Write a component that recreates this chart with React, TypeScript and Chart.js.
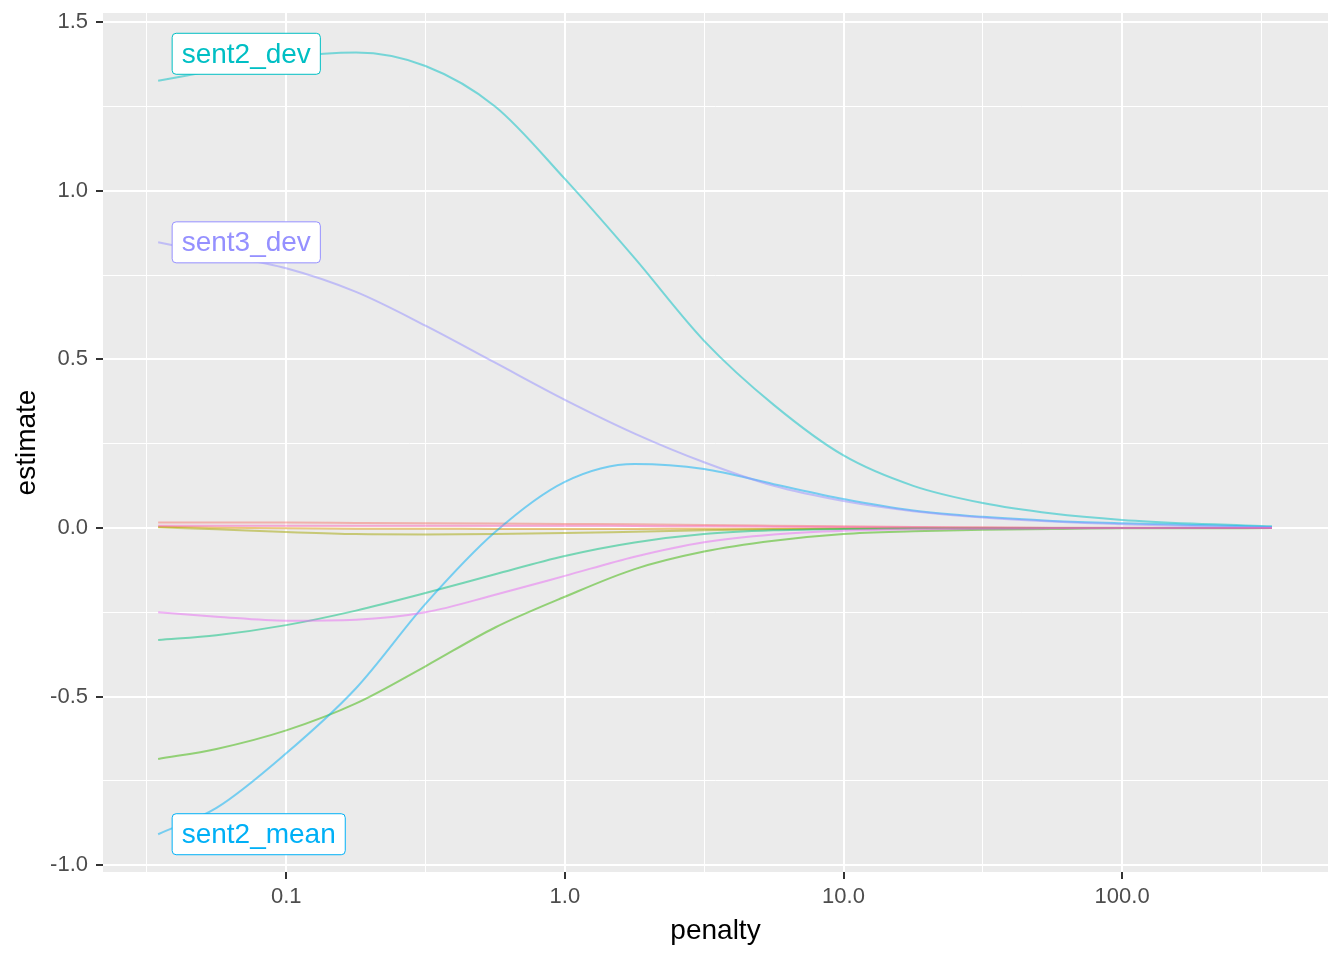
import React, { useEffect, useRef } from 'react';
import { Chart, registerables } from 'chart.js';

Chart.register(...registerables);

const PENALTY = [0.0347, 0.0562, 0.1, 0.178, 0.316, 0.562, 1.0, 1.78, 3.16, 5.62, 10, 17.8, 31.6, 56.2, 100, 178, 345];

const TERM1 = [0.016, 0.016, 0.016, 0.015, 0.014, 0.013, 0.012, 0.011, 0.009, 0.007, 0.005, 0.003, 0.002, 0.001, 0.001, 0, 0];
const TERM2 = [0.004, 0.001, -0.001, -0.002, -0.002, -0.003, -0.003, -0.003, -0.002, -0.002, -0.001, -0.001, 0, 0, 0, 0, 0];
const TERM3 = [0.002, -0.004, -0.012, -0.018, -0.019, -0.018, -0.015, -0.011, -0.007, -0.004, -0.002, -0.001, -0.001, 0, 0, 0, 0];
const TERM4 = [-0.685, -0.655, -0.6, -0.52, -0.41, -0.295, -0.204, -0.122, -0.07, -0.038, -0.018, -0.01, -0.005, -0.003, -0.001, -0.001, 0];
const TERM5 = [-0.332, -0.318, -0.288, -0.245, -0.193, -0.137, -0.083, -0.043, -0.018, -0.007, -0.003, -0.001, -0.001, 0, 0, 0, 0];
const SENT2_DEV = [1.326, 1.358, 1.395, 1.41, 1.37, 1.25, 1.035, 0.8, 0.555, 0.365, 0.215, 0.125, 0.074, 0.043, 0.024, 0.013, 0.005];
const SENT2_MEAN = [-0.908, -0.83, -0.668, -0.475, -0.225, -0.012, 0.137, 0.19, 0.175, 0.13, 0.086, 0.052, 0.033, 0.021, 0.014, 0.009, 0.003];
const SENT3_DEV = [0.847, 0.812, 0.77, 0.7, 0.6, 0.49, 0.38, 0.28, 0.195, 0.125, 0.08, 0.05, 0.031, 0.019, 0.011, 0.006, 0.002];
const TERM9 = [-0.25, -0.263, -0.275, -0.272, -0.25, -0.198, -0.142, -0.085, -0.042, -0.019, -0.008, -0.004, -0.002, -0.001, 0, 0, 0];
const TERM10 = [0.007, 0.007, 0.007, 0.007, 0.007, 0.007, 0.007, 0.006, 0.005, 0.004, 0.003, 0.002, 0.001, 0, 0, 0, 0];

const SERIES = [TERM1, TERM2, TERM3, TERM4, TERM5, SENT2_DEV, SENT2_MEAN, SENT3_DEV, TERM9, TERM10];
const NAMES = ['term1', 'term2', 'term3', 'term4', 'term5', 'sent2_dev', 'sent2_mean', 'sent3_dev', 'term9', 'term10'];
const COLORS = ['#F8766D', '#D89000', '#A3A500', '#39B600', '#00BF7D', '#00BFC4', '#00B0F6', '#9590FF', '#E76BF3', '#FF62BC'];
const LABELLED = ['sent2_dev', 'sent3_dev', 'sent2_mean'];

const X_TICKS = [10 ** -1.5, 0.1, 10 ** -0.5, 1, 10 ** 0.5, 10, 10 ** 1.5, 100, 10 ** 2.5];
const Y_TICKS = [-1, -0.75, -0.5, -0.25, 0, 0.25, 0.5, 0.75, 1, 1.25, 1.5];

const FONT = '"Liberation Sans", Arial, sans-serif';

const isMajorX = (v: number) => Math.abs(Math.log10(v) - Math.round(Math.log10(v))) < 1e-6;
const isMajorY = (v: number) => Math.abs(v * 2 - Math.round(v * 2)) < 1e-6;

const panelBg = {
  id: 'panelBg',
  beforeDraw(chart: any) {
    const { ctx, chartArea: a } = chart;
    ctx.save();
    ctx.fillStyle = '#EBEBEB';
    ctx.fillRect(a.left, a.top, a.right - a.left, a.bottom - a.top);
    ctx.restore();
  },
};

const roundRect = (ctx: CanvasRenderingContext2D, x: number, y: number, w: number, h: number, r: number) => {
  ctx.beginPath();
  ctx.moveTo(x + r, y);
  ctx.lineTo(x + w - r, y);
  ctx.arcTo(x + w, y, x + w, y + r, r);
  ctx.lineTo(x + w, y + h - r);
  ctx.arcTo(x + w, y + h, x + w - r, y + h, r);
  ctx.lineTo(x + r, y + h);
  ctx.arcTo(x, y + h, x, y + h - r, r);
  ctx.lineTo(x, y + r);
  ctx.arcTo(x, y, x + r, y, r);
  ctx.closePath();
};

const termLabels = {
  id: 'termLabels',
  afterDatasetsDraw(chart: any) {
    const { ctx, scales } = chart;
    ctx.save();
    ctx.font = `28px ${FONT}`;
    ctx.textBaseline = 'middle';
    LABELLED.forEach((name) => {
      const i = NAMES.indexOf(name);
      const px = scales.x.getPixelForValue(PENALTY[0]) + 14;
      let py = scales.y.getPixelForValue(SERIES[i][0]);
      // repelled upward so it stays inside the panel
      if (name === 'sent2_dev') py -= 27;
      const w = ctx.measureText(name).width + 19;
      const h = 41;
      roundRect(ctx, px, py - h / 2, w, h, 4);
      ctx.fillStyle = '#FFFFFF';
      ctx.fill();
      ctx.lineWidth = 1;
      ctx.strokeStyle = COLORS[i];
      ctx.stroke();
      ctx.fillStyle = COLORS[i];
      ctx.fillText(name, px + 9.5, py + 1);
    });
    ctx.restore();
  },
};

const axisTitles = {
  id: 'axisTitles',
  afterDraw(chart: any) {
    const { ctx, chartArea: a } = chart;
    ctx.save();
    ctx.font = `28px ${FONT}`;
    ctx.fillStyle = '#000000';
    ctx.textAlign = 'center';
    ctx.textBaseline = 'middle';
    ctx.fillText('penalty', (a.left + a.right) / 2, 931);
    ctx.translate(27, (a.top + a.bottom) / 2);
    ctx.rotate(-Math.PI / 2);
    ctx.fillText('estimate', 0, 0);
    ctx.restore();
  },
};

const PenaltyPaths = () => {
  const chartRef = useRef<HTMLCanvasElement>(null);

  useEffect(() => {
    document.body.style.margin = '0';
    if (!chartRef.current) return;
    const myChart = new Chart(chartRef.current, {
      type: 'line',
      data: {
        datasets: SERIES.map((s, i) => ({
          label: NAMES[i],
          data: PENALTY.map((p, j) => ({ x: p, y: s[j] })),
          borderColor: COLORS[i] + '80',
          borderWidth: 2,
          pointRadius: 0,
          fill: false,
          cubicInterpolationMode: 'monotone' as const,
          order: SERIES.length - i,
        })),
      },
      options: {
        responsive: false,
        animation: false,
        layout: { padding: { top: 13, right: 16, left: 0, bottom: 0 } },
        plugins: { legend: { display: false }, tooltip: { enabled: false } },
        scales: {
          x: {
            type: 'logarithmic',
            min: 0.022,
            max: 548,
            afterBuildTicks: (s: any) => {
              s.ticks = X_TICKS.map((v) => ({ value: v }));
            },
            afterFit: (s: any) => {
              s.height = 88;
              s.paddingLeft = 0;
              s.paddingRight = 0;
            },
            border: { display: false },
            grid: {
              color: '#FFFFFF',
              lineWidth: (c: any) => (isMajorX(c.tick.value) ? 2 : 1),
              tickColor: (c: any) => (isMajorX(c.tick.value) ? '#333333' : 'rgba(0,0,0,0)'),
              tickLength: 7,
              tickWidth: 2,
            },
            ticks: {
              autoSkip: false,
              maxRotation: 0,
              padding: 5,
              color: '#4D4D4D',
              font: { family: FONT, size: 22 },
              callback: (v: any) => (isMajorX(Number(v)) ? Number(v).toFixed(1) : ''),
            },
          },
          y: {
            type: 'linear',
            min: -1.02,
            max: 1.527,
            afterBuildTicks: (s: any) => {
              s.ticks = Y_TICKS.map((v) => ({ value: v }));
            },
            afterFit: (s: any) => {
              s.width = 103;
              s.paddingTop = 0;
              s.paddingBottom = 0;
            },
            border: { display: false },
            grid: {
              color: '#FFFFFF',
              lineWidth: (c: any) => (isMajorY(c.tick.value) ? 2 : 1),
              tickColor: (c: any) => (isMajorY(c.tick.value) ? '#333333' : 'rgba(0,0,0,0)'),
              tickLength: 7,
              tickWidth: 2,
            },
            ticks: {
              autoSkip: false,
              padding: 8,
              color: '#4D4D4D',
              font: { family: FONT, size: 22 },
              callback: (v: any) => (isMajorY(Number(v)) ? Number(v).toFixed(1) : ''),
            },
          },
        },
      },
      plugins: [panelBg, termLabels, axisTitles],
    });

    return () => {
      myChart.destroy();
    };
  }, []);

  return <canvas ref={chartRef} width={1344} height={960} />;
};

export default function App() {
  return <PenaltyPaths />;
}
